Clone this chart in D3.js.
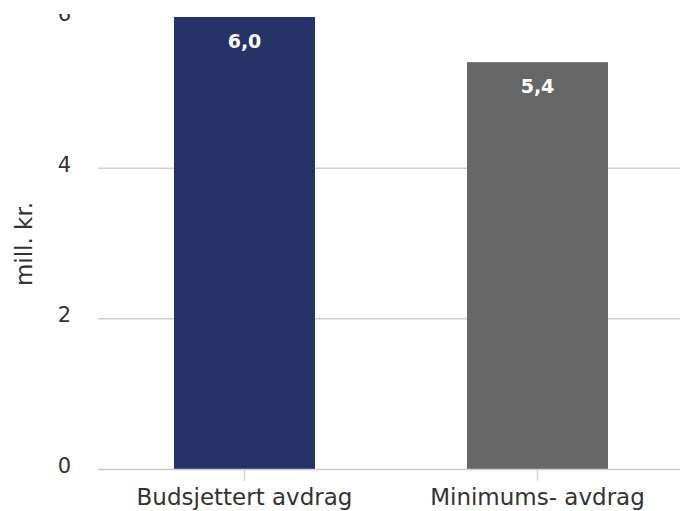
<!DOCTYPE html>
<html><head><meta charset="utf-8">
<script src="https://cdn.jsdelivr.net/npm/d3@7"></script>
<style>body{margin:0;background:#fff}svg{display:block}text{font-family:"DejaVu Sans",sans-serif}</style>
</head><body>
<svg id="c" width="680" height="511"></svg>
<script>
const categories = ["Budsjettert avdrag", "Minimums- avdrag"];
const values = [6.0, 5.4];
const labels = ["6,0", "5,4"];
const colors = ["#253369", "#666766"];
const yTicks = [0, 2, 4, 6];

const svg = d3.select("#c");
const x = d3.scaleBand().domain(categories).range([98, 684]).paddingInner(0).paddingOuter(0);
const y = d3.scaleLinear().domain([0, 6]).range([469, 17]);
const bw = 141;

svg.append("g").selectAll("line").data(yTicks.filter(d => d > 0 && d < 6)).join("line")
  .attr("x1", 98).attr("x2", 684).attr("y1", d => y(d) + 0.5).attr("y2", d => y(d) + 0.5)
  .attr("stroke", "#d0d0d0").attr("stroke-width", 1.5);

svg.append("g").selectAll("text").data(yTicks).join("text")
  .attr("x", 71).attr("y", d => y(d) + 4)
  .attr("text-anchor", "end").attr("fill", "#333").attr("font-size", 21)
  .text(d => d);

// top of the picture is blank in the reference (clipped)
svg.append("rect").attr("x", 0).attr("y", 0).attr("width", 680).attr("height", 14).attr("fill", "#fff");

svg.append("g").selectAll("rect").data(values).join("rect")
  .attr("x", (d, i) => x(categories[i]) + x.bandwidth() / 2 - bw / 2)
  .attr("width", bw)
  .attr("y", d => y(d)).attr("height", d => y(0) - y(d))
  .attr("fill", (d, i) => colors[i]);

svg.append("line").attr("x1", 98).attr("x2", 684).attr("y1", 469.5).attr("y2", 469.5)
  .attr("stroke", "#ccc").attr("stroke-width", 1.5);

svg.append("g").selectAll("line").data(categories).join("line")
  .attr("x1", d => x(d) + x.bandwidth() / 2).attr("x2", d => x(d) + x.bandwidth() / 2)
  .attr("y1", 470).attr("y2", 481).attr("stroke", "#ccd6eb").attr("stroke-width", 1.5);

svg.append("g").selectAll("text").data(categories).join("text")
  .attr("x", d => x(d) + x.bandwidth() / 2).attr("y", 505)
  .attr("text-anchor", "middle").attr("fill", "#333").attr("font-size", 23)
  .text(d => d);

svg.append("g").selectAll("text").data(values).join("text")
  .attr("x", (d, i) => x(categories[i]) + x.bandwidth() / 2)
  .attr("y", d => y(d) + 31)
  .attr("text-anchor", "middle").attr("fill", "#fff").attr("font-size", 19).attr("font-weight", "bold")
  .text((d, i) => labels[i]);

svg.append("text").attr("transform", "translate(32,244) rotate(-90)")
  .attr("text-anchor", "middle").attr("fill", "#333").attr("font-size", 23)
  .text("mill. kr.");
</script>
</body></html>
